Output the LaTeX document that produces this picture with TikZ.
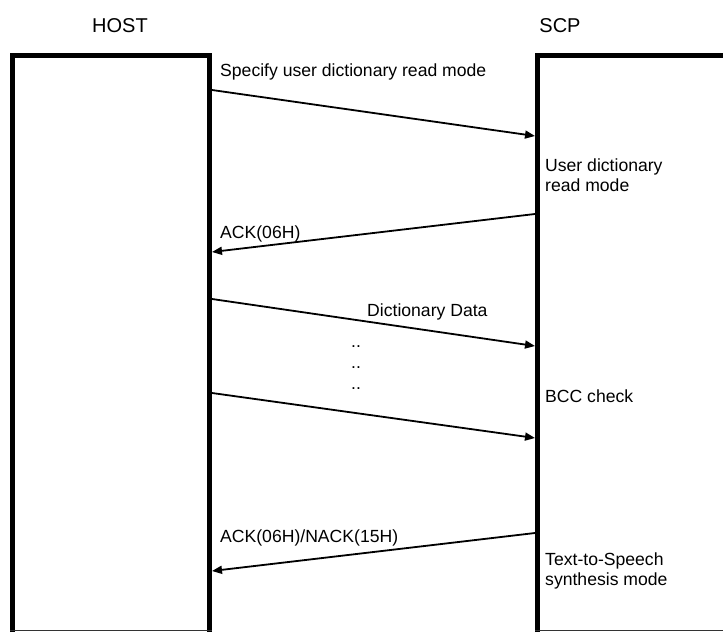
\documentclass[tikz,border=0pt]{standalone}
\usepackage{fontspec}
\setmainfont{Liberation Sans}
\usetikzlibrary{arrows.meta}
\begin{document}
\begin{tikzpicture}[x=1pt,y=-1pt,
  lifeline/.style={line width=5pt,line join=miter},
  baseline/.style={line width=1pt,draw=black!80},
  msg/.style={line width=1.8pt,-{Triangle[length=10pt,width=8pt]}},
  lbl/.style={anchor=base west,inner sep=0pt,font=\fontsize{17.6}{20}\selectfont},
  ttl/.style={anchor=base,inner sep=0pt,font=\fontsize{20}{24}\selectfont}]
\useasboundingbox (0,0) rectangle (723,632);
\fill[white] (0,0) rectangle (723,632);

% titles
\node[ttl] (host) at (120,32) {HOST};
\node[ttl] (scp)  at (560,32) {SCP};

% the two lifeline boxes
\draw[lifeline] (12.5,632) -- (12.5,55.5) -- (209.5,55.5) -- (209.5,632);
\draw[lifeline] (537.5,632) -- (537.5,55.5) -- (723,55.5);
\draw[baseline] (10,630.5) -- (212,630.5);
\draw[baseline] (535,630.5) -- (723,630.5);

% message end points on the lifelines
\coordinate (h1) at (212,90);   \coordinate (s1) at (535,136);
\coordinate (s2) at (535,214);  \coordinate (h2) at (212,252);
\coordinate (h3) at (212,299);  \coordinate (s3) at (535,346);
\coordinate (h4) at (212,393);  \coordinate (s4) at (535,438);
\coordinate (s5) at (535,533);  \coordinate (h5) at (212,571);

% messages
\draw[msg] (h1) -- (s1);
\draw[msg] (s2) -- (h2);
\draw[msg] (h3) -- (s3);
\draw[msg] (h4) -- (s4);
\draw[msg] (s5) -- (h5);

% message labels
\node[lbl] (m1) at (220,76)  {Specify user dictionary read mode};
\node[lbl] (m2) at (220,238) {ACK(06H)};
\node[lbl] (m3) at (367,316) {Dictionary Data};
\node[lbl] (d1) at (351,347) {..};
\node[lbl] (d2) at (351,368) {..};
\node[lbl] (d3) at (351,389) {..};
\node[lbl] (m5) at (220,542) {ACK(06H)/NACK(15H)};

% state labels on the SCP side
\node[lbl] (st1) at (545,171) {User dictionary};
\node[lbl] (st1b) at (545,191) {read mode};
\node[lbl] (st2) at (545,402) {BCC check};
\node[lbl] (st3) at (545,565) {Text-to-Speech};
\node[lbl] (st3b) at (545,585) {synthesis mode};
\end{tikzpicture}
\end{document}
